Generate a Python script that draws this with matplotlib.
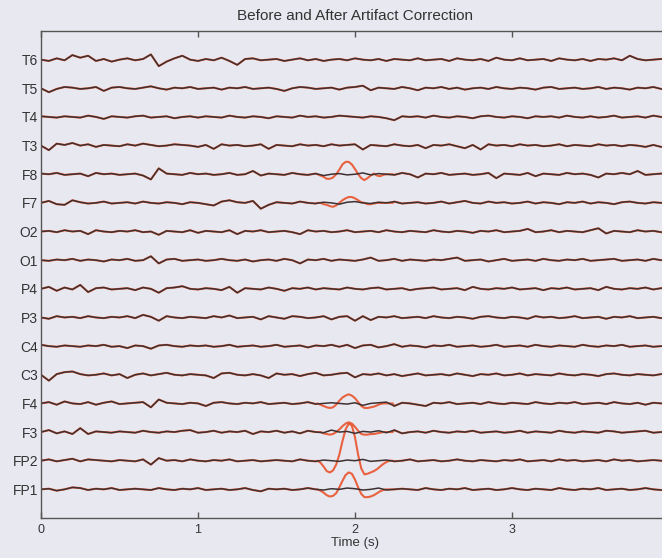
"""
Before / after artifact correction, 16-channel EEG strip chart.
Writes out.png (662x558).
"""

import numpy as np
import matplotlib
matplotlib.use("Agg")
import matplotlib.pyplot as plt

# ── Data (µV) ────────────────────────────────────────────────────────────────
CHANNELS = ["FP1", "FP2", "F3", "F4", "C3", "C4", "P3", "P4",
            "O1", "O2", "F7", "F8", "T3", "T4", "T5", "T6"]

DT = 0.05          # clean trace sample step (s)
DT_ART = 0.02      # artifact window sample step (s)
ART_START = 1.76   # first sample of the artifact window (s)

# corrected ("after") signals, 80 samples each
T6 = [0, -2, 2, -1, 7, 3, 6, -2, 1, -3,
      0, 2, -1, 1, 8, -10, -3, 2, 6, 0,
      -2, 1, -1, 3, -2, -8, 1, 2, -1, 0,
      1, -2, 0, 2, -1, 1, -2, 0, 1, -1,
      2, 0, -1, 1, -2, 1, 0, -1, 2, -1,
      0, 1, -2, 2, 0, -1, 1, -2, 3, 0,
      -1, 2, -1, 0, 1, -2, 2, 0, -1, 1,
      -2, 1, 0, 2, -1, 6, 1, -1, 0, 1]
T5 = [0, -6, -1, 2, 1, -1, 0, 2, -4, 1,
      2, 0, -1, 1, 3, 0, -2, 1, 0, 2,
      -1, 0, 1, -2, 1, 0, 2, -1, 0, 1,
      -1, -4, 0, 2, 1, -1, 0, 1, -2, 1,
      2, 4, -3, 1, 0, -1, 2, 0, -3, 1,
      0, 2, -1, 1, -2, 0, 1, -1, 2, 0,
      -1, 1, 0, -2, 1, 2, -1, 0, 1, -1,
      0, 2, -1, 1, 0, -2, 1, 0, 2, -1]
T4 = [1, 0, -1, 1, 0, -1, 2, 0, -3, 1,
      0, -1, 1, 2, -1, 0, 1, -2, 0, 1,
      -1, 1, 0, -1, 2, 0, -1, 1, 0, -2,
      1, 0, -1, 2, 0, 1, -1, 0, 2, 1,
      0, -1, 1, 0, -2, -5, 1, 0, 1, -1,
      2, 0, -1, 1, 0, -2, 1, 2, 0, -1,
      1, 0, -2, 1, 0, 1, -1, 2, 0, -1,
      1, -1, 0, 2, -1, 0, 1, -1, 2, 0]
T3 = [0, -7, 3, 1, 4, 0, 2, -2, 1, 0,
      -1, 2, 0, 3, 1, -1, 0, 2, 1, 0,
      -2, 1, -5, 2, 0, 1, -1, 0, 2, -5,
      1, 0, -1, 2, 0, 1, -1, 2, 0, 1,
      2, -6, 1, 0, -1, 2, 0, -1, 1, -4,
      1, 0, 2, -1, -4, 1, -6, 2, 0, 1,
      -1, 2, 0, 1, -1, 0, 2, -1, 1, 0,
      -1, 2, 0, 1, -1, 1, 0, -2, 1, -2]
F8 = [1, 0, 2, -1, 0, 1, -3, 2, 0, 1,
      -1, 0, 1, -2, -8, 9, 1, 0, -1, 2,
      0, 1, -1, 0, 2, -1, 0, 5, -2, 1,
      0, -1, 2, 0, -1, 1, -2, 0, 1, -1,
      0, 2, -1, 1, 0, -1, 2, 0, -5, 1,
      0, 2, -1, 0, 1, -1, 0, 2, -6, 1,
      0, -1, 2, -3, 1, 0, -1, 2, 0, 1,
      -1, -5, 1, 0, 2, 0, 5, -1, 0, 1]
F7 = [0, 3, -2, -3, 4, 1, -1, 0, 2, -1,
      0, 1, -1, 2, 0, -1, 1, 0, -2, 1,
      0, -2, -4, 2, 4, 1, 0, 3, -9, -3,
      1, 0, -1, 2, 0, -1, 1, 0, -2, 1,
      2, 0, -1, 1, 0, 2, -1, 0, 1, -1,
      0, 2, -1, 1, 3, 0, -1, 2, 0, 1,
      -1, 0, 2, -1, 1, 0, -2, 1, 0, 2,
      -1, 1, 0, -2, 1, 2, 0, -1, 1, 0]
O2 = [0, 1, -1, 2, 0, 1, -4, 2, 0, -1,
      1, 0, 2, -1, 0, -5, 1, 0, -1, 2,
      -2, 1, 0, -1, 2, -4, 1, 0, 2, -1,
      0, 1, -1, -4, 2, 0, 1, -1, 0, 2,
      -1, 0, 1, -1, 2, 0, -1, 1, 0, -1,
      2, 0, -1, 1, 0, -2, 1, 0, 2, -1,
      0, 1, 4, -1, 0, 2, -1, 1, 0, -1,
      2, 5, -3, 1, 0, -1, 2, 0, 1, -1]
O1 = [0, -1, 1, 0, 2, -1, 1, 0, -2, 1,
      0, 2, -1, 0, 6, -5, 1, 2, -1, 0,
      1, -1, 0, 2, 0, -1, 1, -2, 0, 1,
      -1, 2, 0, -5, 1, 0, 2, -1, 1, 0,
      -1, 1, 4, -1, 0, 2, -1, 1, 0, -1,
      1, 0, 2, 4, -1, 0, 1, -2, 0, 2,
      -1, 0, 1, -1, 2, 0, -1, 1, 0, 2,
      -1, 0, 1, 2, -1, 0, 1, -1, 2, 0]
P4 = [0, 3, -3, 2, -1, 6, -5, 1, 2, -1,
      0, 1, -2, 2, 0, -6, 1, 2, 4, 0,
      -1, 1, 0, -2, 3, -6, 1, 0, -1, 2,
      0, -3, 1, 0, 2, -1, 1, 0, -1, 2,
      0, -1, 1, 2, -1, 0, 1, -2, 0, 1,
      2, -1, 0, 1, -2, 3, 0, -1, 1, 0,
      2, -1, 0, 1, -2, 1, 0, 2, -1, 0,
      1, -2, 3, 0, -1, 1, 0, 2, -1, 1]
P3 = [0, -2, 2, 0, 1, -1, 2, 0, -1, 1,
      0, 2, -1, 4, 1, -5, 2, 0, -1, 1,
      0, -1, 2, 0, 3, -1, 0, 1, -3, 2,
      0, -2, 2, 1, -1, 0, 2, -3, 1, 2,
      -5, 2, -4, 1, 0, 2, -1, 0, 1, -1,
      2, 0, -1, 1, 0, -2, 1, 2, 0, -1,
      1, 0, -2, 2, 0, 1, -1, 0, 2, -1,
      0, 1, -2, 1, 0, 2, -1, 0, 1, -1]
C4 = [2, 0, -1, 1, 0, -1, 1, 0, 2, -1,
      0, -3, 1, 0, -4, 1, 2, 0, -1, 1,
      0, 1, -1, 0, 2, -1, 0, 1, -1, 0,
      2, -1, 0, 1, -2, 1, 0, 2, -1, 2,
      -3, 1, 2, -2, 0, 3, -1, 1, 0, -2,
      1, 0, 2, -1, 0, 1, -1, 0, 2, -1,
      0, 1, -1, 2, 0, -1, 1, 0, -1, 2,
      0, -1, 1, 0, 2, -1, 0, 1, -1, 0]
C3 = [0, -9, 1, 4, 5, 1, -1, 0, 2, -1,
      1, -5, 0, 2, -1, 1, 3, 0, -1, 1,
      0, -1, -5, 2, 3, 0, -1, 1, -1, -5,
      2, 0, 1, -2, 1, 3, -1, 0, 2, 3,
      -4, 1, 0, 2, -1, 1, -2, 0, 2, -1,
      0, 1, -1, 2, 0, -2, 1, 0, 2, -1,
      0, 2, -1, 1, 0, -1, 2, 0, -1, 1,
      0, -2, 1, 2, 0, -1, 1, 0, -1, 1]
F4 = [0, 2, -2, 3, 0, -1, 2, -2, 1, 3,
      -1, 0, 1, 2, -6, 6, 1, 0, -1, 1,
      0, -4, 1, 2, 0, -1, 1, 0, 2, -1,
      0, 1, -1, 0, 2, -1, 0, 1, 0, -1,
      1, -3, 0, 1, 2, -4, 1, 0, -2, -4,
      1, 0, 2, -1, 0, 1, -1, 2, 0, -1,
      1, 0, -1, 2, 0, -1, 1, 0, 2, -1,
      0, 1, -1, 2, 0, -1, 1, -2, 1, 0]
F3 = [0, 3, -2, 1, -3, 6, -3, 1, 0, -1,
      1, 0, -1, 2, 0, -1, 1, 0, 2, 3,
      -1, 0, 2, -1, 1, 0, 2, -3, 1, 0,
      2, -1, 1, -2, 2, 0, -1, 3, 0, 1,
      -2, 1, 0, 2, -1, 3, -2, 0, 1, -1,
      2, 0, -1, 1, 0, 2, -1, 0, 1, -1,
      0, 2, -1, 1, 0, -1, 2, 0, -1, 1,
      0, -1, 2, 1, -1, 0, 1, 2, -1, 0]
FP2 = [0, 2, -1, 1, 3, -1, 2, 1, 0, -1,
       1, 0, -1, 2, -6, 4, 0, 1, -1, 2,
       0, -1, 1, 0, 2, -1, 0, 1, -1, 0,
       1, 0, -1, 2, 0, -1, 1, 0, -1, 1,
       0, 2, -1, 0, 1, -1, 0, 2, -1, 0,
       1, -1, 0, 2, 0, -1, 1, 0, -1, 1,
       0, 2, -1, 0, 1, -1, 2, 0, 1, -1,
       0, 1, -1, 2, 0, 1, -1, 0, 1, 0]
FP1 = [0, 1, -2, 0, 3, 2, -1, 1, 0, 2,
       -1, 0, 1, 0, -1, 2, 0, -1, 1, 0,
       2, -1, 0, 1, -1, 0, 2, -1, -3, 1,
       0, 1, -1, 0, 2, 0, -1, 1, 0, 2,
       1, -1, 0, 2, -1, 0, 1, 0, -1, 2,
       0, -1, 1, 0, 2, -1, 0, 1, -1, 0,
       2, 0, -1, 1, 0, -1, 2, 0, -1, 1,
       0, 2, -1, 0, 1, -1, 0, 2, 0, -1]

# uncorrected ("before") values inside the blink window, 1.76-2.24 s
FP2_RAW = [0, -3, -9, -16, -18, -15, -6, 9, 30, 48, 57, 54, 36,
           9, -12, -21, -20, -18, -16, -13, -9, -5, -2, 0, 0]
FP1_RAW = [0, -2, -5, -9, -11, -10, -6, 3, 13, 22, 26, 24, 15,
           3, -7, -12, -12, -11, -9, -6, -3, -1, 0, 0, 0]
F3_RAW = [0, 0, -2, -3, -4, -3, 0, 4, 9, 13, 15, 13, 8,
          2, -3, -4, -4, -3, -3, -2, -1, 0, 0, 0, 0]
F4_RAW = [0, -2, -4, -6, -7, -6, -2, 4, 9, 12, 14, 12, 8,
          2, -4, -7, -7, -6, -5, -3, -1, 0, 0, 0, 0]
F8_RAW = [0, -2, -4, -7, -7, -5, 0, 7, 15, 19, 19, 15, 8,
          0, -6, -9, -6, -2, 1, -2, -3, -1, 0, 0, 0]
F7_RAW = [0, 0, -2, -3, -5, -6, -4, 0, 4, 7, 9, 9, 7,
          4, 1, 0, -2, -2, -1, 0, 0, 0, 0, 0, 0]

AFTER = {"FP1": FP1, "FP2": FP2, "F3": F3, "F4": F4, "C3": C3, "C4": C4,
         "P3": P3, "P4": P4, "O1": O1, "O2": O2, "F7": F7, "F8": F8,
         "T3": T3, "T4": T4, "T5": T5, "T6": T6}
BEFORE_WINDOW = {"FP1": FP1_RAW, "FP2": FP2_RAW, "F3": F3_RAW,
                 "F4": F4_RAW, "F8": F8_RAW, "F7": F7_RAW}

SPACING = 44       # vertical offset between channels (µV)

# ── Style ────────────────────────────────────────────────────────────────────
BG = "#e8e8f0"
DARK = "#3e3030"
RED = "#e8532c"
TXT = "#333333"
plt.rcParams["font.family"] = ["Liberation Sans", "DejaVu Sans"]


def main():
    fig = plt.figure(figsize=(6.62, 5.58), dpi=100, facecolor=BG)
    ax = fig.add_axes([41 / 662, 40 / 558, 628 / 662, 487 / 558], facecolor=BG)

    for k, name in enumerate(CHANNELS):
        after = np.asarray(AFTER[name], dtype=float)
        t = np.arange(len(after)) * DT
        off = k * SPACING

        # "before" trace = after outside the window, raw values inside it
        if name in BEFORE_WINDOW:
            raw = np.asarray(BEFORE_WINDOW[name], dtype=float)
            t_art = ART_START + np.arange(len(raw)) * DT_ART
            left = t < t_art[0]
            right = t > t_art[-1]
            t_b = np.concatenate([t[left], t_art, t[right]])
            y_b = np.concatenate([after[left], raw, after[right]])
        else:
            t_b, y_b = t, after

        ax.plot(t_b, y_b + off, color=RED, lw=1.5, alpha=0.9,
                solid_joinstyle="round")
        ax.plot(t, after + off, color=DARK, lw=1.1, solid_joinstyle="round")

    ax.set_xlim(0, 4)
    ax.set_ylim(-SPACING, 16 * SPACING)
    ax.set_yticks([k * SPACING for k in range(len(CHANNELS))])
    ax.set_yticklabels(CHANNELS)
    ax.set_xticks([0, 1, 2, 3])
    ax.set_xticklabels(["0", "1", "2", "3"])

    ax.tick_params(axis="x", direction="in", length=4, width=1, colors="#555555",
                   labelcolor=TXT, labelsize=9, top=True, pad=4)
    ax.tick_params(axis="y", length=0, labelcolor=TXT, labelsize=10, pad=2)
    for side in ("left", "bottom", "top", "right"):
        ax.spines[side].set_color("#555555")
        ax.spines[side].set_linewidth(1.0)

    ax.set_xlabel("Time (s)", fontsize=9.5, color=TXT, labelpad=1)
    ax.set_title("Before and After Artifact Correction", fontsize=11,
                 color=TXT, pad=8)

    fig.savefig("out.png", dpi=100, facecolor=BG)
    plt.close(fig)


if __name__ == "__main__":
    main()
